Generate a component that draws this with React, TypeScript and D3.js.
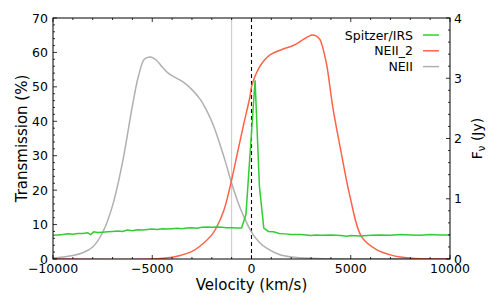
//@ts-nocheck
import React from "react";
import * as d3 from "d3";

// NEII transmission (%), left axis
const neiiV = [-10000, -9500, -9000, -8500, -8000, -7500, -7000, -6500, -6000, -5700, -5400, -5100, -4800, -4500, -4200, -3800, -3400, -3000, -2600, -2250, -1900, -1600, -1300, -1000, -700, -400, 0, 400, 800, 1400, 2000, 3000, 5000, 10000];
const neiiT = [0.3, 0.6, 1.0, 1.8, 3.5, 7.7, 15.5, 28, 44.5, 53, 58, 58.7, 57.8, 55.8, 54, 52.6, 51.2, 49.2, 46.5, 43, 38.5, 33.5, 28, 22, 16.8, 12.5, 7.8, 4.8, 3, 1.3, 0.6, 0.2, 0, 0];

// NEII_2 transmission (%), left axis
const neii2V = [-10000, -5000, -4000, -3600, -3000, -2600, -2000, -1750, -1400, -1080, -700, -400, -75, 0, 430, 930, 1600, 2100, 2600, 3000, 3250, 3450, 3650, 3800, 4100, 4500, 4960, 5550, 6300, 7000, 7500, 8500, 10000];
const neii2T = [0, 0, 0.5, 1, 2.2, 3.7, 7, 9.3, 14, 21, 31, 39, 47.2, 50, 56, 59.3, 61, 62, 63.7, 65, 64.8, 63.7, 60, 56, 44, 31.5, 18.2, 6.4, 2.7, 1.2, 0.6, 0.1, 0];

// Spitzer/IRS flux (Jy), right axis
const irsV = [-10000, -9750, -9500, -9250, -9000, -8750, -8500, -8250, -8100, -7950, -7750, -7500, -7250, -7000, -6750, -6500, -6250, -6000, -5750, -5500, -5250, -5000, -4750, -4500, -4250, -4000, -3750, -3500, -3250, -3000, -2750, -2500, -2250, -2000, -1750, -1500, -1250, -1000, -750, -500, -280, 180, 400, 620, 850, 1100, 1400, 1700, 2000, 2500, 3000, 3250, 3500, 4000, 4500, 4800, 5000, 5500, 6000, 6500, 7000, 7500, 8000, 8500, 9000, 9500, 10000];
const irsF = [0.394, 0.400, 0.406, 0.417, 0.411, 0.423, 0.423, 0.434, 0.406, 0.451, 0.440, 0.446, 0.451, 0.457, 0.463, 0.457, 0.480, 0.469, 0.486, 0.480, 0.491, 0.497, 0.491, 0.503, 0.497, 0.503, 0.509, 0.503, 0.514, 0.520, 0.509, 0.526, 0.531, 0.526, 0.531, 0.526, 0.520, 0.520, 0.514, 0.514, 0.737, 2.966, 1.2, 0.514, 0.457, 0.451, 0.423, 0.417, 0.406, 0.406, 0.389, 0.400, 0.394, 0.400, 0.389, 0.377, 0.389, 0.383, 0.394, 0.400, 0.394, 0.406, 0.400, 0.394, 0.406, 0.400, 0.400];

const xMajor = [-10000, -5000, 0, 5000, 10000];
const leftMajor = [0, 10, 20, 30, 40, 50, 60, 70];
const rightMajor = [0, 1, 2, 3, 4];

const legendItems = [
  { label: "Spitzer/IRS", color: "#33cc33" },
  { label: "NEII_2", color: "#ff6347" },
  { label: "NEII", color: "#b0b0b0" },
];

const W = 498, H = 308;
const L = 53, R = 450, T = 18, B = 259;
const font = "DejaVu Sans";

export default function App() {
  const x = d3.scaleLinear().domain([-10000, 10000]).range([L, R]);
  const yL = d3.scaleLinear().domain([0, 70]).range([B, T]);
  const yR = d3.scaleLinear().domain([0, 4]).range([B, T]);

  const smooth = d3.line().curve(d3.curveCatmullRom.alpha(0.5));
  const straight = d3.line();
  const neiiPath = smooth(neiiV.map((v, i) => [x(v), yL(neiiT[i])]));
  const neii2Path = smooth(neii2V.map((v, i) => [x(v), yL(neii2T[i])]));
  const irsPath = straight(irsV.map((v, i) => [x(v), yR(irsF[i])]));

  const xMinor = d3.range(-10000, 10001, 1000);
  const lMinor = d3.range(0, 70.01, 2);
  const rMinor = d3.range(0, 4.01, 0.2);
  const fmt = (v) => (v < 0 ? "\u2212" + Math.abs(v) : String(v));

  return (
    <svg width={W} height={H} style={{ position: "absolute", left: 0, top: 0 }} fontFamily={font}>
      <rect width={W} height={H} fill="white" />
      <defs>
        <clipPath id="plot">
          <rect x={L} y={T} width={R - L} height={B - T} />
        </clipPath>
      </defs>
      <g clipPath="url(#plot)">
        <line x1={x(-1000)} x2={x(-1000)} y1={T} y2={B} stroke="#c8c8c8" strokeWidth={1} />
        <line x1={x(0)} x2={x(0)} y1={T} y2={B} stroke="black" strokeWidth={1.1} strokeDasharray="4,3" />
        <path d={neiiPath} fill="none" stroke="#b0b0b0" strokeWidth={1.5} />
        <path d={neii2Path} fill="none" stroke="#ff6347" strokeWidth={1.5} />
        <path d={irsPath} fill="none" stroke="#33cc33" strokeWidth={1.5} />
      </g>
      {/* ticks */}
      <g stroke="black" strokeWidth={0.8}>
        {xMinor.map((v) => {
          const len = xMajor.includes(v) ? 4 : 2;
          return (
            <g key={"x" + v}>
              <line x1={x(v)} x2={x(v)} y1={B} y2={B - len} />
              <line x1={x(v)} x2={x(v)} y1={T} y2={T + len} />
            </g>
          );
        })}
        {lMinor.map((v, i) => {
          const len = i % 5 === 0 ? 4 : 2;
          return <line key={"l" + i} x1={L} x2={L + len} y1={yL(v)} y2={yL(v)} />;
        })}
        {rMinor.map((v, i) => {
          const len = i % 5 === 0 ? 4 : 2;
          return <line key={"r" + i} x1={R} x2={R - len} y1={yR(v)} y2={yR(v)} />;
        })}
      </g>
      <rect x={L} y={T} width={R - L} height={B - T} fill="none" stroke="black" strokeWidth={1} />
      {/* tick labels */}
      <g fontSize={12.5} fill="black">
        {xMajor.map((v) => (
          <text key={"xt" + v} x={x(v)} y={B + 14} textAnchor="middle">{fmt(v)}</text>
        ))}
        {leftMajor.map((v) => (
          <text key={"lt" + v} x={L - 5} y={yL(v)} dy="0.36em" textAnchor="end">{v}</text>
        ))}
        {rightMajor.map((v) => (
          <text key={"rt" + v} x={R + 4} y={yR(v)} dy="0.36em" textAnchor="start">{v}</text>
        ))}
      </g>
      {/* axis labels */}
      <text x={(L + R) / 2} y={290} textAnchor="middle" fontSize={15}>Velocity (km/s)</text>
      <text transform={`translate(27,${(T + B) / 2}) rotate(-90)`} textAnchor="middle" fontSize={15}>Transmission (%)</text>
      <text transform={`translate(482,${(T + B) / 2}) rotate(-90)`} textAnchor="middle" fontSize={14}>
        F<tspan fontSize={10} dy="3">ν</tspan><tspan dy="-3"> (Jy)</tspan>
      </text>
      {/* legend */}
      <g fontSize={12.5}>
        {legendItems.map((d, i) => {
          const yy = 35 + i * 15.8;
          return (
            <g key={d.label}>
              <text x={413} y={yy} dy="0.36em" textAnchor="end">{d.label}</text>
              <line x1={423} x2={439} y1={yy} y2={yy} stroke={d.color} strokeWidth={1.5} />
            </g>
          );
        })}
      </g>
    </svg>
  );
}
